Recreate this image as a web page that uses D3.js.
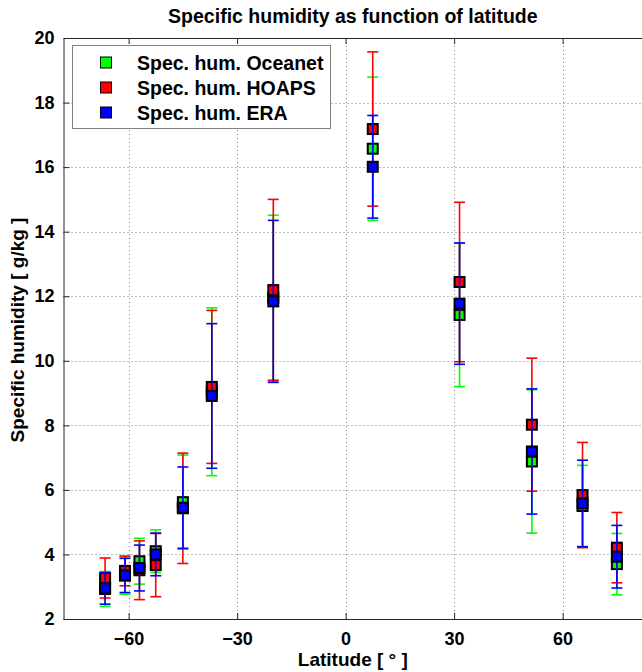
<!DOCTYPE html>
<html>
<head>
<meta charset="utf-8">
<script src="https://cdn.jsdelivr.net/npm/d3@7"></script>
<style>
  html, body { margin: 0; padding: 0; background: #fff; }
  svg { display: block; }
  text { font-family: "Liberation Sans", Arial, sans-serif; font-weight: bold; fill: #000; }
</style>
</head>
<body>
<div id="chart"></div>
<script>
// Specific humidity per latitude band: three data sets, mean ± spread.
const latitudes = [-66.5, -61, -57, -52.5, -45, -37, -20, 7.5, 31.5, 51.5, 65.5, 75];

const oceanetMean = [2.93, 3.35, 3.79, 4.10, 5.62, 9.04, 11.96, 16.57, 11.42, 6.88, 5.50, 3.70];
const oceanetErr  = [0.54, 0.58, 0.71, 0.66, 1.46, 2.60, 2.55, 2.22, 2.22, 2.22, 1.26, 0.95];

const hoapsMean = [3.27, 3.49, 3.51, 3.67, 5.43, 9.19, 12.19, 17.18, 12.44, 8.02, 5.84, 4.21];
const hoapsErr  = [0.62, 0.46, 0.91, 0.98, 1.71, 2.37, 2.81, 2.39, 2.47, 2.06, 1.63, 1.09];

const eraMean = [2.95, 3.35, 3.58, 4.00, 5.45, 8.91, 11.84, 16.01, 11.77, 7.19, 5.58, 3.93];
const eraErr  = [0.49, 0.53, 0.71, 0.66, 1.26, 2.24, 2.51, 1.59, 1.88, 1.94, 1.34, 0.97];

const seriesNames = ['Spec. hum. Oceanet', 'Spec. hum. HOAPS', 'Spec. hum. ERA'];
const seriesColors = ['#00ff00', '#ff0000', '#0000ff'];

const xTicks = [-60, -30, 0, 30, 60];
const yTicks = [2, 4, 6, 8, 10, 12, 14, 16, 18, 20];

// ── layout ──────────────────────────────────────────────────────────────────
const W = 642, H = 672;
const LEFT = 63.5, TOP = 38, BOTTOM = 619;
const TICK = 6;           // inward tick length
const MARK = 10;          // marker square (without its border)
const CAP = 11;           // error-bar cap width

const svg = d3.select('#chart').append('svg').attr('width', W).attr('height', H);

const x = d3.scaleLinear().domain([-78, 82]).range([LEFT, 642.2]);
const y = d3.scaleLinear().domain([2, 20]).range([BOTTOM, TOP]);
const RIGHT = x(82);
const MID = (LEFT + RIGHT) / 2;

// grid
const grid = svg.append('g').attr('stroke', '#808080').attr('stroke-width', 1)
  .attr('stroke-dasharray', '1,3');
grid.selectAll('.gx').data(xTicks).join('line')
  .attr('x1', d => Math.round(x(d)) + 0.5).attr('x2', d => Math.round(x(d)) + 0.5)
  .attr('y1', TOP).attr('y2', BOTTOM);
grid.selectAll('.gy').data(yTicks).join('line')
  .attr('y1', d => Math.round(y(d)) + 0.5).attr('y2', d => Math.round(y(d)) + 0.5)
  .attr('x1', LEFT).attr('x2', RIGHT);

// axes (MATLAB style box, ticks inside)
const axisColor = '#262626';
const bottomAxis = svg.append('g').attr('transform', `translate(0,${BOTTOM})`)
  .call(d3.axisBottom(x).tickValues(xTicks).tickSizeInner(-TICK).tickSizeOuter(0).tickPadding(TICK + 7));
const topAxis = svg.append('g').attr('transform', `translate(0,${TOP})`)
  .call(d3.axisTop(x).tickValues(xTicks).tickSizeInner(-TICK).tickSizeOuter(0).tickFormat(''));
const leftAxis = svg.append('g').attr('transform', `translate(${LEFT},0)`)
  .call(d3.axisLeft(y).tickValues(yTicks).tickSizeInner(-TICK).tickSizeOuter(0).tickPadding(TICK + 3));

[bottomAxis, topAxis, leftAxis].forEach(a => {
  a.select('.domain').attr('stroke', axisColor);
  a.selectAll('.tick line').attr('stroke', axisColor);
  a.selectAll('text').attr('font-size', 18).attr('font-family', null).attr('fill', '#000');
});
bottomAxis.selectAll('.tick text').attr('dy', '0.71em');

// error bars + markers, one series after the other (green, red, blue)
const series = [
  { mean: oceanetMean, err: oceanetErr },
  { mean: hoapsMean, err: hoapsErr },
  { mean: eraMean, err: eraErr },
];

series.forEach((s, si) => {
  const color = seriesColors[si];
  const pts = latitudes.map((lat, i) => ({ lat, m: s.mean[i], e: s.err[i] }));
  const g = svg.append('g');

  g.selectAll('.stem').data(pts).join('line')
    .attr('x1', d => x(d.lat)).attr('x2', d => x(d.lat))
    .attr('y1', d => y(d.m - d.e)).attr('y2', d => y(d.m + d.e))
    .attr('stroke', color).attr('stroke-width', 1.6);
  ['lo', 'hi'].forEach(end => {
    g.selectAll('.cap-' + end).data(pts).join('line')
      .attr('x1', d => x(d.lat) - CAP / 2).attr('x2', d => x(d.lat) + CAP / 2)
      .attr('y1', d => y(end === 'lo' ? d.m - d.e : d.m + d.e))
      .attr('y2', d => y(end === 'lo' ? d.m - d.e : d.m + d.e))
      .attr('stroke', color).attr('stroke-width', 1.6);
  });

  g.selectAll('.mark').data(pts).join('rect')
    .attr('x', d => x(d.lat) - MARK / 2).attr('y', d => y(d.m) - MARK / 2)
    .attr('width', MARK).attr('height', MARK)
    .attr('fill', color).attr('stroke', '#000').attr('stroke-width', 2);
});

// legend
const legend = svg.append('g');
legend.append('rect').attr('x', 72.5).attr('y', 45.5).attr('width', 258).attr('height', 83)
  .attr('fill', '#fff').attr('stroke', '#808080').attr('stroke-width', 1);
seriesNames.forEach((name, i) => {
  const cy = 62.5 + i * 25;
  legend.append('rect').attr('x', 100.5).attr('y', cy - 5.5).attr('width', 11).attr('height', 11)
    .attr('fill', seriesColors[i]).attr('stroke', '#000').attr('stroke-width', 1);
  legend.append('text').attr('x', 137).attr('y', cy + 7).attr('font-size', 19.5).text(name);
});

// titles
svg.append('text').attr('x', MID).attr('y', 23).attr('text-anchor', 'middle')
  .attr('font-size', 19.5).text('Specific humidity as function of latitude');
svg.append('text').attr('x', MID).attr('y', 666).attr('text-anchor', 'middle')
  .attr('font-size', 19).text('Latitude [ ° ]');
svg.append('text').attr('transform', 'translate(24,330) rotate(-90)').attr('text-anchor', 'middle')
  .attr('font-size', 19).text('Specific humidity [ g/kg ]');
</script>
</body>
</html>
